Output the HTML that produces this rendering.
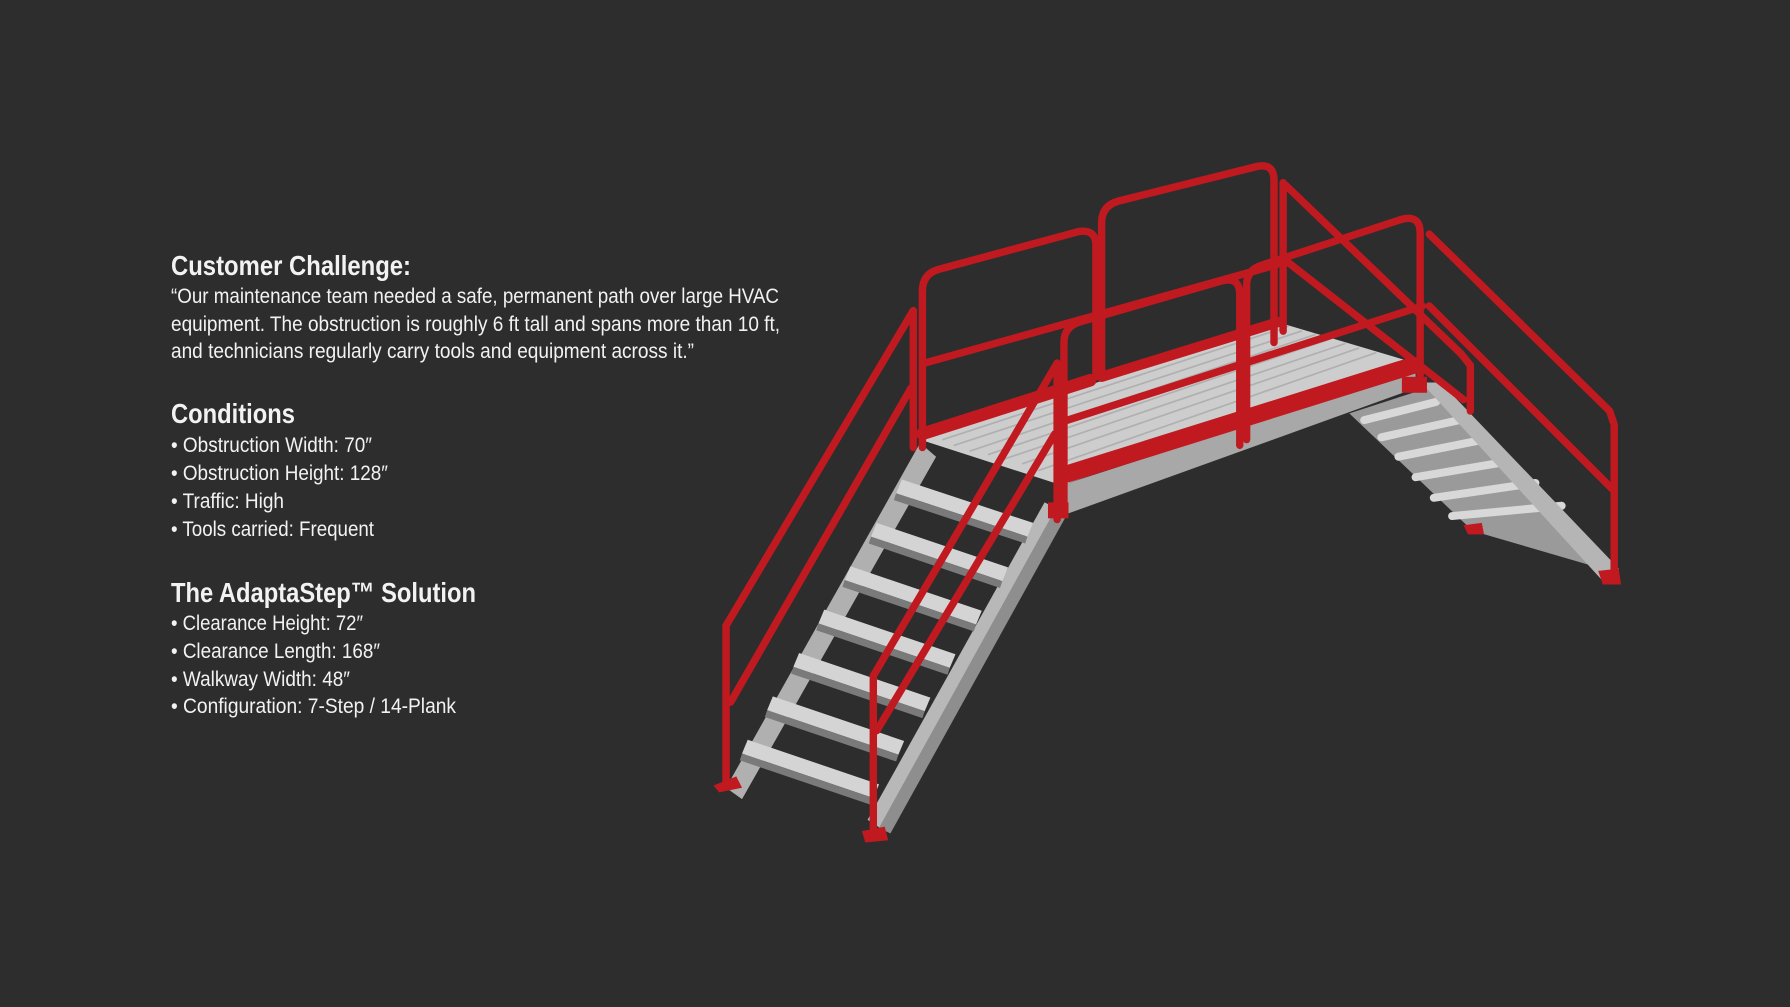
<!DOCTYPE html>
<html><head><meta charset="utf-8"><style>
html,body{margin:0;padding:0;background:#2d2d2d;}
body{width:1790px;height:1007px;position:relative;overflow:hidden;}
svg{position:absolute;left:0;top:0;}
text{font-family:"Liberation Sans Narrow","Liberation Sans",sans-serif;fill:#f2f2f2;}
.h{font-weight:bold;font-size:28px;}
.b{font-size:21px;}
</style></head><body>
<svg width="1790" height="1007" viewBox="0 0 1568 882">
<g fill="none" stroke-linejoin="round" stroke-linecap="round">
<!-- right stairs -->
<polygon points="1182,362 1250,340 1410,500 1290,465" fill="#9a9a9a"/>
<g stroke="#d8d8d8" stroke-width="7">
<line x1="1195" y1="368" x2="1258" y2="352"/>
<line x1="1210" y1="383" x2="1278" y2="368"/>
<line x1="1225" y1="400" x2="1300" y2="385"/>
<line x1="1240" y1="418" x2="1322" y2="404"/>
<line x1="1256" y1="436" x2="1345" y2="423"/>
<line x1="1272" y1="452" x2="1368" y2="443"/>
</g>
<polygon points="1245,335 1262,335 1418,498 1405,510" fill="#b5b5b5"/>
<!-- deck -->
<polygon points="806,385 1122,283 1240,318 930,425" fill="#cdcdcd"/>
<g stroke="#b0b0b0" stroke-width="1.5">
<line x1="836" y1="390" x2="1140" y2="290"/><line x1="866" y1="398" x2="1165" y2="297"/>
<line x1="896" y1="406" x2="1190" y2="305"/><line x1="826" y1="385" x2="1128" y2="286"/>
<line x1="850" y1="395" x2="1152" y2="293"/><line x1="880" y1="402" x2="1178" y2="301"/>
<line x1="910" y1="412" x2="1205" y2="309"/>
</g>
<polygon points="930,425 1240,325 1240,340 935,450" fill="#a8a8a8"/>
<!-- left stairs stringers -->
<polygon points="806,388 820,400 650,700 636,690" fill="#b0b0b0"/>
<polygon points="915,440 935,450 775,728 760,718" fill="#b8b8b8"/>
<polygon points="925,445 935,450 780,730 770,725" fill="#8e8e8e"/>
<!-- treads -->
<g>
<polygon points="790,420 905,458 900,470 785,432" fill="#d4d4d4"/>
<polygon points="768,458 883,497 878,509 763,470" fill="#d4d4d4"/>
<polygon points="745,496 860,535 855,547 740,508" fill="#d4d4d4"/>
<polygon points="722,534 837,573 832,585 717,546" fill="#d4d4d4"/>
<polygon points="700,572 815,611 810,623 695,584" fill="#d4d4d4"/>
<polygon points="677,610 792,649 787,661 672,622" fill="#d4d4d4"/>
<polygon points="655,648 770,687 765,699 650,660" fill="#d4d4d4"/>
</g>
<g fill="#7a7a7a">
<polygon points="785,432 900,470 898,476 783,438"/>
<polygon points="763,470 878,509 876,515 761,476"/>
<polygon points="740,508 855,547 853,553 738,514"/>
<polygon points="717,546 832,585 830,591 715,552"/>
<polygon points="695,584 810,623 808,629 693,590"/>
<polygon points="672,622 787,661 785,667 670,628"/>
<polygon points="650,660 765,699 763,705 648,666"/>
</g>
<!-- red rails -->
<g stroke="#c01a20" stroke-width="6.5">
<line x1="808" y1="380" x2="955" y2="333" stroke-width="11"/>
<line x1="965" y1="330" x2="1120" y2="282" stroke-width="9"/>
<line x1="935" y1="415" x2="1238" y2="320" stroke-width="15"/>
<polyline points="636,688 636,548 800,272 800,392"/>
<line x1="640" y1="615" x2="798" y2="340"/>
<polyline points="765,725 765,592 926,318 926,455"/>
<line x1="768" y1="640" x2="924" y2="380"/>
<path d="M808,392 L808,255 Q808,240 822,236 L944,203 Q960,200 960,215 L960,330"/>
<path d="M965,330 L965,195 Q965,180 980,176 L1100,146 Q1116,142 1116,158 L1116,300"/>
<line x1="810" y1="318" x2="1118" y2="232"/>
<line x1="1124" y1="160" x2="1124" y2="290"/>
<path d="M932,450 L932,300 Q932,286 946,282 L1070,246 Q1086,242 1086,258 L1086,390"/>
<path d="M1092,385 L1092,250 Q1092,236 1106,232 L1228,192 Q1244,188 1244,204 L1244,340"/>
<line x1="935" y1="368" x2="1246" y2="268"/>
<polyline points="1126,162 1280,310 1288,320 1288,360"/>
<line x1="1126" y1="228" x2="1282" y2="350"/>
<polyline points="1252,205 1410,360 1414,372 1414,508"/>
<line x1="1252" y1="268" x2="1412" y2="428"/>
</g>
<g fill="#c01a20">
<polygon points="625,688 645,680 650,690 630,694"/>
<polygon points="755,728 775,724 778,736 758,738"/>
<polygon points="1400,500 1418,498 1420,512 1404,512"/>
<polygon points="1282,460 1298,458 1300,468 1286,468"/>
<rect x="918" y="440" width="18" height="14"/>
<rect x="1228" y="330" width="22" height="14"/>
</g>
</g>
</svg>
<svg width="1790" height="1007">
<text class="h" x="171" y="275" textLength="240" lengthAdjust="spacingAndGlyphs">Customer Challenge:</text>
<text class="b" x="171" y="303" textLength="608" lengthAdjust="spacingAndGlyphs">“Our maintenance team needed a safe, permanent path over large HVAC</text>
<text class="b" x="171" y="331" textLength="609" lengthAdjust="spacingAndGlyphs">equipment. The obstruction is roughly 6 ft tall and spans more than 10 ft,</text>
<text class="b" x="171" y="358" textLength="523" lengthAdjust="spacingAndGlyphs">and technicians regularly carry tools and equipment across it.”</text>
<text class="h" x="171" y="423" textLength="124" lengthAdjust="spacingAndGlyphs">Conditions</text>
<text class="b" x="171" y="452" textLength="201" lengthAdjust="spacingAndGlyphs">• Obstruction Width: 70″</text>
<text class="b" x="171" y="480" textLength="217" lengthAdjust="spacingAndGlyphs">• Obstruction Height: 128″</text>
<text class="b" x="171" y="508" textLength="113" lengthAdjust="spacingAndGlyphs">• Traffic: High</text>
<text class="b" x="171" y="536" textLength="203" lengthAdjust="spacingAndGlyphs">• Tools carried: Frequent</text>
<text class="h" x="171" y="602" textLength="305" lengthAdjust="spacingAndGlyphs">The AdaptaStep™ Solution</text>
<text class="b" x="171" y="630" textLength="192" lengthAdjust="spacingAndGlyphs">• Clearance Height: 72″</text>
<text class="b" x="171" y="658" textLength="209" lengthAdjust="spacingAndGlyphs">• Clearance Length: 168″</text>
<text class="b" x="171" y="686" textLength="179" lengthAdjust="spacingAndGlyphs">• Walkway Width: 48″</text>
<text class="b" x="171" y="713" textLength="285" lengthAdjust="spacingAndGlyphs">• Configuration: 7-Step / 14-Plank</text>
</svg>
</body></html>
